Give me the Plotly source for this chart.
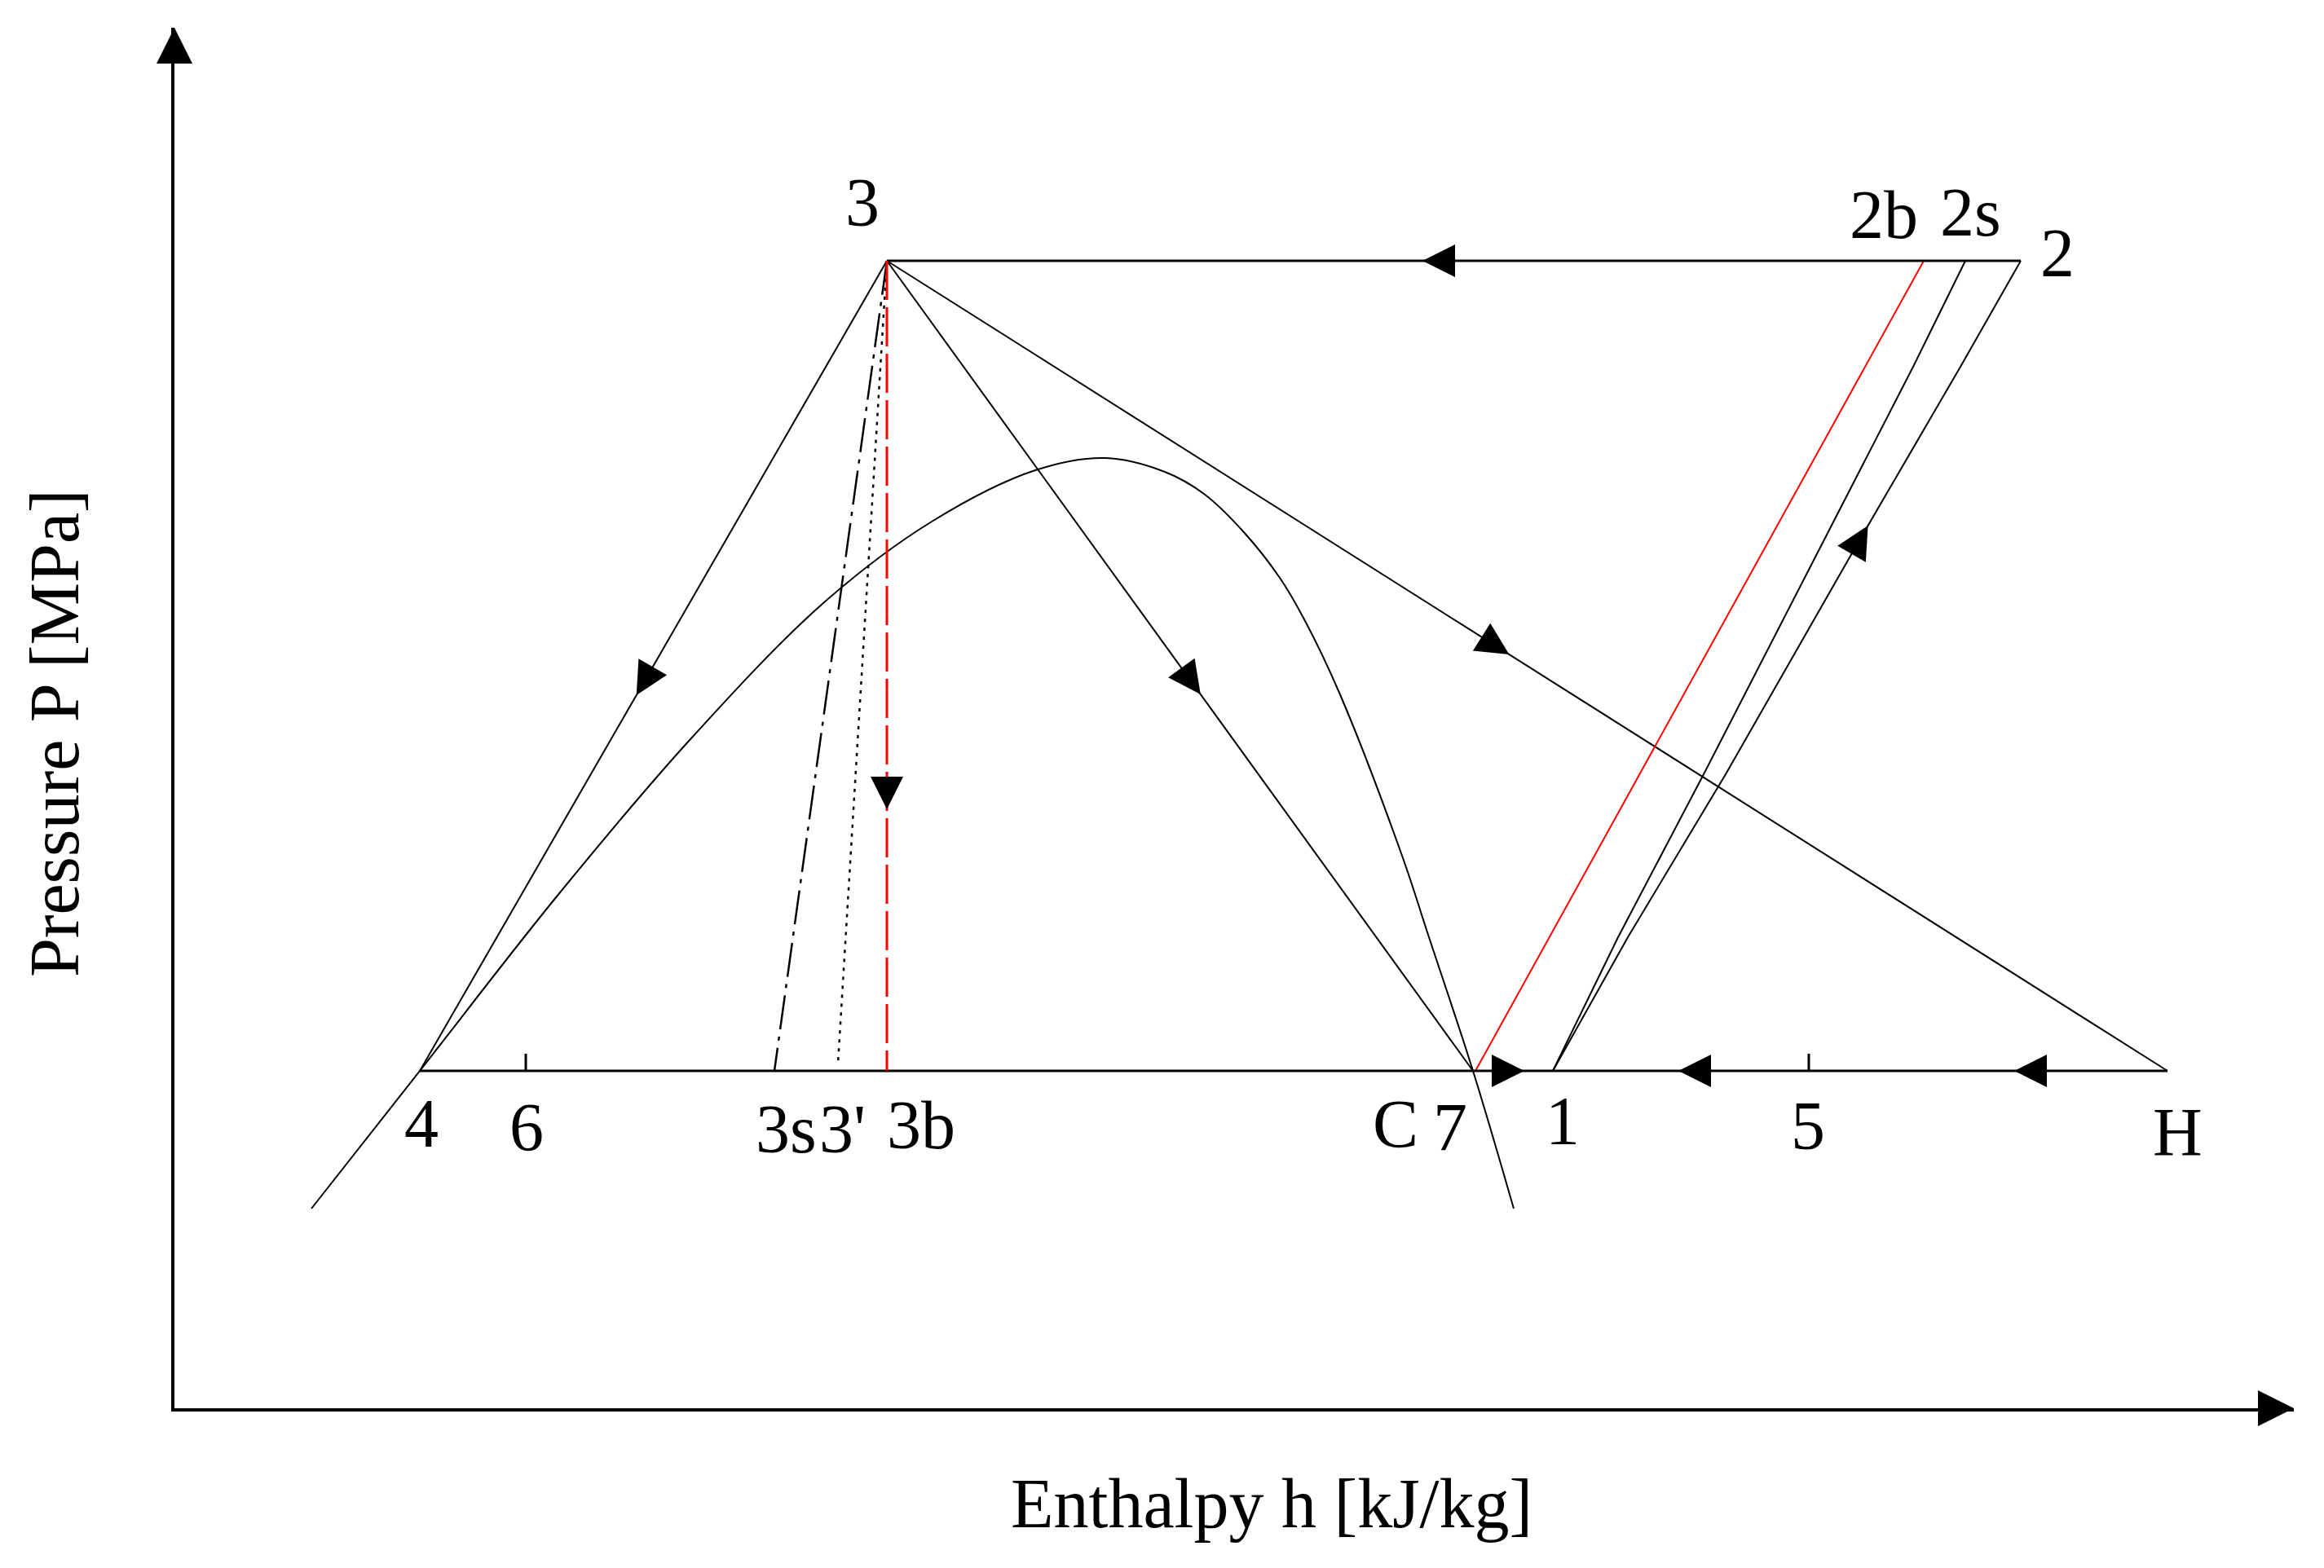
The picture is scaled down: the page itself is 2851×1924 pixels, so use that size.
import numpy as np
import plotly.graph_objects as go

# ---------------- data (schematic units: h horizontal, P vertical) ----------------
P_HIGH = 140.8   # high-pressure line (3 ... 2)
P_LOW = 41.4     # low-pressure line (4 ... H)

# enthalpy of named state points
h3 = 87.4
h2b = 214.6
h2s = 219.7
h2 = 226.5
h4 = 30.1
h6 = 43.1
h3s = 73.6
h3p = 81.4
h3b = 87.4
hC = 159.3
h7 = 159.6
h1 = 169.1
h5 = 200.5
hH = 244.5
P3p_end = 42.3

# saturation dome
dome_h = [16.8, 30.1, 46.9, 63.3, 79.6, 92.9, 105.6, 114.2, 121.5, 126.3, 131.1, 135.6,
          138.6, 142.9, 150.6, 153.9, 159.3, 164.3]
dome_P = [24.5, 41.4, 62.8, 82.1, 98.8, 108.8, 115.1, 116.6, 114.9, 112.2, 107.6, 101.9,
          96.8, 87.8, 67.8, 57.8, 41.4, 24.5]

# compression 1 -> 2 (real) and 1 -> 2s (isentropic)
comp2_h = [169.1, 178.3, 190.3, 206.3, 219.1, 226.5]
comp2_P = [41.4, 57.8, 77.8, 105.8, 127.8, 140.8]
comp2s_h = [169.1, 177.1, 187.6, 213.3, 219.7]
comp2s_P = [41.4, 57.8, 77.8, 127.8, 140.8]

# point labels
label_text = ["3", "2b", "2s", "2", "4", "6", "3s", "3'", "3b", "C", "7", "1", "5", "H"]
label_h = [84.4, 209.7, 220.3, 231.0, 30.3, 43.2, 75.0, 81.9, 91.6, 149.8, 156.5, 170.3, 200.4, 245.7]
label_P = [148.0, 146.5, 146.8, 141.8, 35.0, 34.5, 34.3, 34.3, 34.8, 34.9, 34.5, 35.3, 34.7, 33.9]

X_MAX = 260.0
Y_MAX = 169.4

# ---------------- figure ----------------
fig = go.Figure()
BLACK = "black"
RED = "#ff0000"


def line(hs, ps, color=BLACK, width=2, dash="solid", shape="linear", smoothing=1.0):
    ln = dict(color=color, width=width, dash=dash, shape=shape)
    if shape == "spline":
        ln["smoothing"] = smoothing
    fig.add_trace(go.Scatter(x=hs, y=ps, mode="lines", line=ln,
                             hoverinfo="skip", showlegend=False))


# saturation dome
line(dome_h, dome_P, shape="spline", smoothing=1.0)

# expansion lines from 3
line([h3, h4], [P_HIGH, P_LOW])
line([h3, hC], [P_HIGH, P_LOW])
line([h3, hH], [P_HIGH, P_LOW])
line([h3, h3s], [P_HIGH, P_LOW], width=2.5, dash="42px,9px,5px,9px")
line([h3, h3p], [P_HIGH, P3p_end], width=2.5, dash="4px,7px")

# compression lines
line(comp2s_h, comp2s_P)
line(comp2_h, comp2_P)
line([h7, h2b], [P_LOW, P_HIGH], color=RED)

# isobars
line([h3, h2], [P_HIGH, P_HIGH], width=3)
line([h4, hH], [P_LOW, P_LOW], width=3)

# ticks at 6 and 5
for hx in (h6, h5):
    line([hx, hx], [P_LOW, P_LOW + 2.1], width=3)

# red dashed 3 -> 3b
line([h3, h3b], [P_HIGH, P_LOW], color=RED, width=3, dash="48px,9px")

# ---------------- arrow heads ----------------
arrows = []  # (tip_h, tip_P, dir_h, dir_P)


def arrow_seg(a, b, tip_P=None, tip_h=None):
    ah, ap = a
    bh, bp = b
    if tip_P is not None:
        t = (tip_P - ap) / (bp - ap)
    else:
        t = (tip_h - ah) / (bh - ah)
    arrows.append((ah + t * (bh - ah), ap + t * (bp - ap), bh - ah, bp - ap))


arrow_seg((h2, P_HIGH), (h3, P_HIGH), tip_h=153.1)
arrow_seg((h3, P_HIGH), (h3b, P_LOW), tip_P=73.5)
arrow_seg((h3, P_HIGH), (h4, P_LOW), tip_P=87.5)
arrow_seg((h3, P_HIGH), (hC, P_LOW), tip_P=87.6)
arrow_seg((h3, P_HIGH), (hH, P_LOW), tip_P=92.5)
arrow_seg((hC, P_LOW), (h1, P_LOW), tip_h=165.6)
arrow_seg((hH, P_LOW), (h1, P_LOW), tip_h=184.5)
arrow_seg((hH, P_LOW), (h1, P_LOW), tip_h=225.7)
# arrow on the real compression curve, pointing up
tipP = 108.3
tiph = float(np.interp(tipP, comp2_P, comp2_h))
arrows.append((tiph, tipP, comp2_h[-1] - comp2_h[0], comp2_P[-1] - comp2_P[0]))

ax_h = [a[0] for a in arrows]
ax_P = [a[1] for a in arrows]
ang = [float(np.degrees(np.arctan2(a[2], a[3]))) for a in arrows]
fig.add_trace(go.Scatter(x=ax_h, y=ax_P, mode="markers",
                         marker=dict(symbol="arrow-up", size=40, angle=ang, color=BLACK,
                                     line=dict(width=0)),
                         hoverinfo="skip", showlegend=False, cliponaxis=False))

# axis arrow heads
fig.add_trace(go.Scatter(x=[X_MAX, 0], y=[0, Y_MAX], mode="markers",
                         marker=dict(symbol="arrow-up", size=44, angle=[90, 0], color=BLACK,
                                     line=dict(width=0)),
                         hoverinfo="skip", showlegend=False, cliponaxis=False))

# ---------------- labels ----------------
FONT = "Liberation Serif, Times New Roman, serif"
for t, hx, py in zip(label_text, label_h, label_P):
    fig.add_annotation(x=hx, y=py, text=t, showarrow=False, xanchor="center", yanchor="middle",
                       font=dict(family=FONT, size=84, color=BLACK))

fig.add_annotation(x=0.5177, y=-0.069, xref="paper", yref="paper", text="Enthalpy h [kJ/kg]",
                   showarrow=False, xanchor="center", yanchor="middle",
                   font=dict(family=FONT, size=86, color=BLACK))
fig.add_annotation(x=-0.0565, y=0.4888, xref="paper", yref="paper", text="Pressure P [MPa]",
                   showarrow=False, textangle=-90, xanchor="center", yanchor="middle",
                   font=dict(family=FONT, size=86, color=BLACK))

fig.update_layout(
    width=2835, height=1908,
    margin=dict(l=206, r=29, t=26, b=188, pad=0),
    paper_bgcolor="white", plot_bgcolor="white",
    showlegend=False,
    xaxis=dict(range=[0, X_MAX], showline=True, linecolor=BLACK, linewidth=4,
               showgrid=False, zeroline=False, showticklabels=False, ticks=""),
    yaxis=dict(range=[0, Y_MAX], showline=True, linecolor=BLACK, linewidth=4,
               showgrid=False, zeroline=False, showticklabels=False, ticks=""),
)

fig.write_html("out.html")
